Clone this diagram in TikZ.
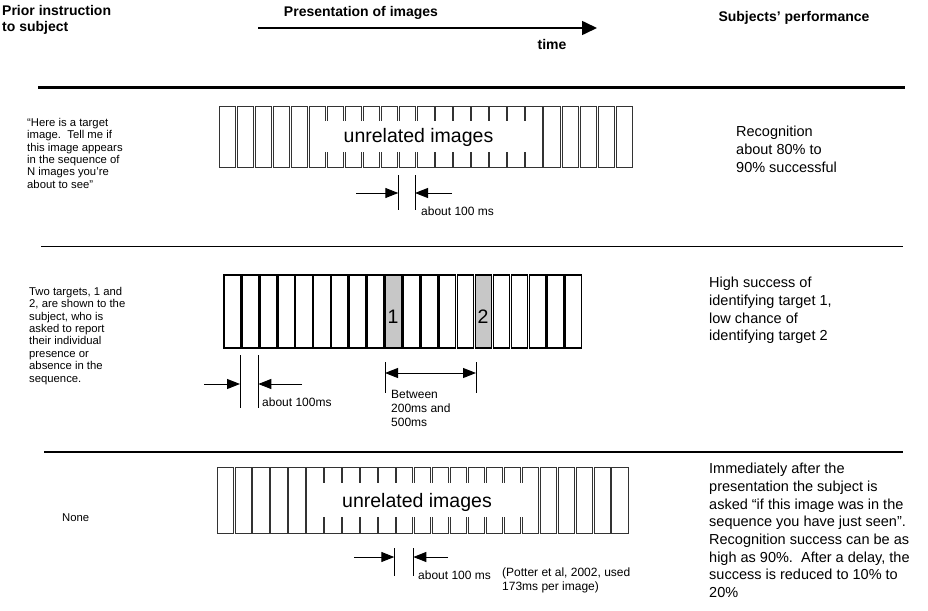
\documentclass[tikz,border=0pt]{standalone}
\usepackage{fontspec}
\setmainfont{Liberation Sans}
\usetikzlibrary{arrows.meta}
\begin{document}
\begin{tikzpicture}[x=1pt,y=-1pt,
 hdr/.style={font=\fontsize{14}{16}\selectfont\bfseries, inner sep=0pt, align=left},
 ltxt/.style={font=\fontsize{11.3}{12.4}\selectfont, align=left, anchor=north west, inner sep=0pt},
 rtxt/.style={font=\fontsize{14.5}{17.7}\selectfont, align=left, anchor=north west, inner sep=0pt},
 stxt/.style={font=\fontsize{12}{14}\selectfont, align=left, anchor=west, inner sep=0pt},
 bigtxt/.style={font=\fontsize{19.5}{22}\selectfont, inner sep=0pt},
 imgbox/.style={draw=black!80, line width=0.9pt, fill=white},
 imgboxb/.style={draw=black, line width=1.3pt, fill=white},
 targetbox/.style={imgboxb, fill=black!22},
 dimtick/.style={line width=0.9pt},
 dimarrow/.style={line width=1pt, -{Triangle[length=13pt,width=10pt]}},
 sepline/.style={line width=1.2pt}
]
\useasboundingbox (0,0) rectangle (928,610);

% header
\node[hdr, anchor=north west] (prior) at (2,5) {Prior instruction\\to subject};
\node[hdr] (pres) at (361,13) {Presentation of images};
\coordinate (ts) at (258,28);
\coordinate (te) at (597,28);
\draw[line width=1.6pt, -{Triangle[length=15pt,width=14pt]}] (ts) -- (te);
\node[hdr] (time) at (552,44) {time};
\node[hdr] (perf) at (794,18) {Subjects' performance};

% separators
\coordinate (s1a) at (38,87);   \coordinate (s1b) at (905,87);
\coordinate (s2a) at (41,246.5); \coordinate (s2b) at (902.5,246.5);
\coordinate (s3a) at (44,452);  \coordinate (s3b) at (902.5,452);
\draw[line width=3pt] (s1a) -- (s1b);
\draw[sepline] (s2a) -- (s2b);
\draw[sepline] (s3a) -- (s3b);

% row 1
\foreach \k in {0,...,22}{
  \draw[imgbox] ({219+18.05*\k},106) rectangle ++(16.4,61);
}
\fill[white] (313,121) rectangle (539,152);
\node[bigtxt] (u1) at (418.5,137) {unrelated images};
\coordinate (r1t1a) at (398.3,175); \coordinate (r1t1b) at (398.3,210);
\coordinate (r1t2a) at (415,175);   \coordinate (r1t2b) at (415,210);
\draw[dimtick] (r1t1a) -- (r1t1b);
\draw[dimtick] (r1t2a) -- (r1t2b);
\coordinate (r1as) at (356,193); \coordinate (r1ae) at (398.3,193);
\coordinate (r1bs) at (452,193); \coordinate (r1be) at (415,193);
\draw[dimarrow] (r1as) -- (r1ae);
\draw[dimarrow] (r1bs) -- (r1be);
\node[stxt] (d1) at (421,211) {about 100 ms};

% row 2
\foreach \k in {0,...,19}{
  \ifnum\k=9 \def\st{targetbox}\else\ifnum\k=14 \def\st{targetbox}\else\def\st{imgboxb}\fi\fi
  \draw[\st] ({224+17.95*\k},275) rectangle ++(16.4,73);
}
\node[bigtxt] (n1) at (393,317) {1};
\node[bigtxt] (n2) at (483,317) {2};
\coordinate (r2t1a) at (240,355); \coordinate (r2t1b) at (240,408);
\coordinate (r2t2a) at (258.3,355); \coordinate (r2t2b) at (258.3,408);
\draw[dimtick] (r2t1a) -- (r2t1b);
\draw[dimtick] (r2t2a) -- (r2t2b);
\coordinate (r2as) at (204,384); \coordinate (r2ae) at (240,384);
\coordinate (r2bs) at (302,384); \coordinate (r2be) at (258.3,384);
\draw[dimarrow] (r2as) -- (r2ae);
\draw[dimarrow] (r2bs) -- (r2be);
\node[stxt] (d2) at (262,402) {about 100ms};
\coordinate (r2t3a) at (385,362); \coordinate (r2t3b) at (385,393);
\coordinate (r2t4a) at (476,362); \coordinate (r2t4b) at (476,393);
\draw[dimtick] (r2t3a) -- (r2t3b);
\draw[dimtick] (r2t4a) -- (r2t4b);
\coordinate (r2cs) at (385,373); \coordinate (r2ce) at (476,373);
\draw[line width=1pt, {Triangle[length=13pt,width=10pt]}-{Triangle[length=13pt,width=10pt]}] (r2cs) -- (r2ce);
\node[stxt, anchor=north west] (btw) at (391,390) {Between\\200ms and\\500ms};

% row 3
\foreach \k in {0,...,22}{
  \draw[imgbox] ({217+17.95*\k},467) rectangle ++(16.4,66);
}
\fill[white] (311,483) rectangle (537,517);
\node[bigtxt] (u3) at (417,502) {unrelated images};
\coordinate (r3t1a) at (394.3,548); \coordinate (r3t1b) at (394.3,576);
\coordinate (r3t2a) at (413.3,548); \coordinate (r3t2b) at (413.3,576);
\draw[dimtick] (r3t1a) -- (r3t1b);
\draw[dimtick] (r3t2a) -- (r3t2b);
\coordinate (r3as) at (354,557); \coordinate (r3ae) at (394.3,557);
\coordinate (r3bs) at (448,557); \coordinate (r3be) at (413.3,557);
\draw[dimarrow] (r3as) -- (r3ae);
\draw[dimarrow] (r3bs) -- (r3be);
\node[stxt] (d3) at (418,575) {about 100 ms};
\node[stxt, anchor=north west] (potter) at (502,568) {(Potter et al, 2002, used\\173ms per image)};

% left texts
\node[ltxt] (l1) at (27,118) {``Here is a target\\image.\ \ Tell me if\\this image appears\\in the sequence of\\N images you're\\about to see''};
\node[ltxt] (l2) at (29,287) {Two targets, 1 and\\2, are shown to the\\subject, who is\\asked to report\\their individual\\presence or\\absence in the\\sequence.};
\node[ltxt, anchor=west] (l3) at (62,518) {None};

% right texts
\node[rtxt] (p1) at (736,126) {Recognition\\about 80\% to\\90\% successful};
\node[rtxt] (p2) at (709,277) {High success of\\identifying target 1,\\low chance of\\identifying target 2};
\node[rtxt] (p3) at (709,463) {Immediately after the\\presentation the subject is\\asked ``if this image was in the\\sequence you have just seen''.\\Recognition success can be as\\high as 90\%.\ \ After a delay, the\\success is reduced to 10\% to\\20\%};
\end{tikzpicture}
\end{document}
